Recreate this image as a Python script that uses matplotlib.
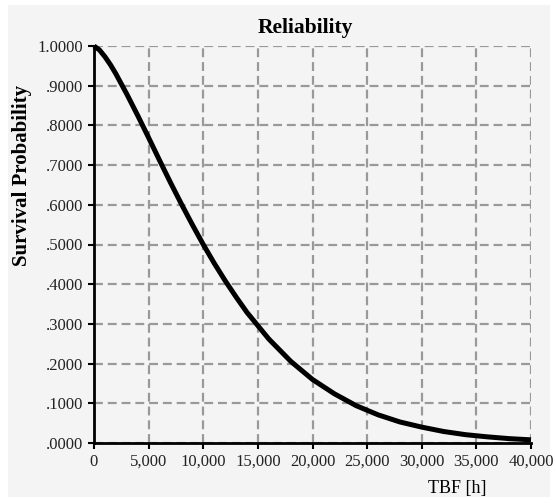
import matplotlib
matplotlib.use("Agg")
import matplotlib.pyplot as plt
from matplotlib.patches import Rectangle
from matplotlib.ticker import FuncFormatter

# Data
tbf_hours = [0, 500, 1000, 1500, 2000, 3000, 4000, 5000, 6000, 7000, 8000, 9000, 10000,
             11000, 12000, 13000, 14000, 16000, 18000, 20000, 22000, 24000, 26000, 28000, 30000,
             32000, 34000, 36000, 38000, 40000]
survival = [1.000, 0.990, 0.973, 0.953, 0.930, 0.879, 0.825, 0.769, 0.712, 0.656, 0.602, 0.550, 0.500,
            0.453, 0.409, 0.368, 0.329, 0.262, 0.206, 0.160, 0.124, 0.094, 0.071, 0.053, 0.040,
            0.029, 0.021, 0.0155, 0.011, 0.008]
x_ticks = [0, 5000, 10000, 15000, 20000, 25000, 30000, 35000, 40000]
y_ticks = [0.0, 0.1, 0.2, 0.3, 0.4, 0.5, 0.6, 0.7, 0.8, 0.9, 1.0]

W, H = 556, 504
fig = plt.figure(figsize=(W / 100, H / 100), dpi=100, facecolor="white")
fig.patches.append(Rectangle((8 / W, 1 - 497 / H), (550 - 8) / W, (497 - 5) / H,
                             transform=fig.transFigure, facecolor="#f4f4f4",
                             edgecolor="none", zorder=-10))

ax = fig.add_axes([94 / W, 1 - 443 / H, (531 - 94) / W, (443 - 46) / H])
ax.set_facecolor("none")
ax.set_zorder(5)

ax.plot(tbf_hours, survival, color="black", lw=3.6, clip_on=False, zorder=5,
        solid_capstyle="butt", solid_joinstyle="round")

ax.set_xlim(0, 40000)
ax.set_ylim(0, 1)
ax.set_xticks(x_ticks)
ax.set_yticks(y_ticks)

def yfmt(v, pos):
    s = f"{v:.4f}"
    return s[1:] if s.startswith("0") else s

ax.yaxis.set_major_formatter(FuncFormatter(yfmt))
ax.xaxis.set_major_formatter(FuncFormatter(lambda v, p: f"{int(v):,}"))

serif = "Liberation Serif"
for lab in ax.get_xticklabels() + ax.get_yticklabels():
    lab.set_fontfamily(serif)
    lab.set_fontsize(12)
    lab.set_color("#222222")

ax.grid(True, color="#999999", linestyle=(0, (4, 2.2)), linewidth=1.6)
ax.set_axisbelow(True)
for side in ("top", "right"):
    ax.spines[side].set_visible(False)
for side in ("left", "bottom"):
    ax.spines[side].set_linewidth(2)
    ax.spines[side].set_color("black")
ax.tick_params(direction="out", length=4, width=1.5, color="black", pad=4)

fig.text(305 / W, 1 - 28 / H, "Reliability", ha="center", va="center",
         fontfamily=serif, fontweight="bold", fontsize=15.5)
fig.text(22 / W, 1 - 175 / H, "Survival Probability", ha="center", va="center",
         rotation=90, fontfamily=serif, fontweight="bold", fontsize=15)
fig.text(457 / W, 1 - 489 / H, "TBF [h]", ha="center", va="center",
         fontfamily=serif, fontsize=13)

fig.savefig("out.png", dpi=100, facecolor="white")
